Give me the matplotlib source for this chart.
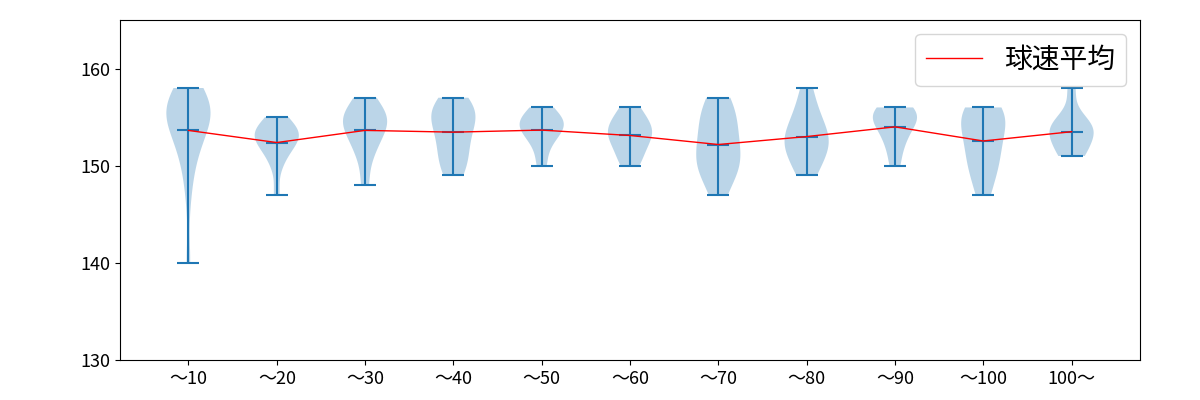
import numpy as np
import matplotlib
matplotlib.use('Agg')
from matplotlib import pyplot as plt

plt.rcParams['font.family'] = ['Noto Sans CJK JP', 'DejaVu Sans']

# pitch-count bins
labels = ['〜10', '〜20', '〜30', '〜40', '〜50', '〜60', '〜70', '〜80', '〜90', '〜100', '100〜']

# pitch speeds (km/h) per bin
s10 = [140, 147, 150, 151, 152, 153, 154, 154, 155, 155, 155, 156, 156, 156, 156, 157, 157, 157, 158]
s20 = [147, 150, 151, 152, 152, 153, 153, 153, 153, 154, 154, 154, 155]
s30 = [148, 151, 152, 153, 154, 154, 155, 155, 155, 156, 157]
s40 = [149, 150, 151, 152, 153, 154, 155, 155, 156, 156, 157]
s50 = [150, 152, 153, 154, 154, 154, 155, 155, 156]
s60 = [150, 151, 152, 153, 153, 154, 154, 155, 156]
s70 = [147, 149, 150, 150, 151, 152, 153, 154, 155, 156, 157]
s80 = [149, 150, 151, 152, 152, 153, 153, 154, 155, 156, 158]
s90 = [150, 152, 153, 154, 155, 155, 155, 156, 156]
s100 = [147, 149, 150, 151, 152, 153, 154, 155, 155, 156, 156]
s101 = [151, 151, 152, 153, 153, 154, 154, 154, 155, 158]

speeds = [s10, s20, s30, s40, s50, s60, s70, s80, s90, s100, s101]
pos = np.arange(1, len(labels) + 1)
means = [np.mean(s) for s in speeds]

fig = plt.figure(figsize=(12, 4), dpi=100)
ax = fig.add_axes([0.1, 0.1, 0.85, 0.85])

ax.violinplot(speeds, positions=pos, showmeans=True)
ax.plot(pos, means, color='red', lw=1, label='球速平均')

ax.set_ylim(130, 165)
ax.set_yticks([130, 140, 150, 160])
ax.set_xticks(pos)
ax.set_xticklabels(labels)
ax.tick_params(labelsize=13)
ax.legend(loc='upper right', fontsize=20)

plt.savefig('out.png')
